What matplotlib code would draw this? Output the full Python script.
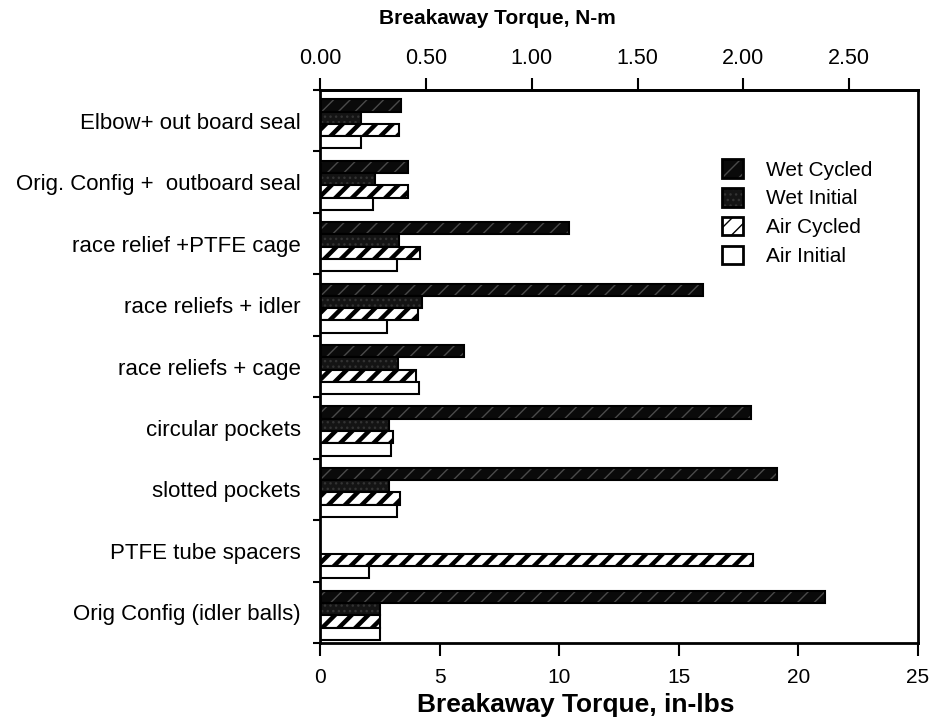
import matplotlib.pyplot as plt
import matplotlib.patches as mpatches
import numpy as np

# configurations, top to bottom
categories = ['Elbow+ out board seal', 'Orig. Config +  outboard seal',
              'race relief +PTFE cage', 'race reliefs + idler',
              'race reliefs + cage', 'circular pockets', 'slotted pockets',
              'PTFE tube spacers', 'Orig Config (idler balls)']

# breakaway torque, in-lbs
wet_cycled = [3.4, 3.7, 10.4, 16.0, 6.0, 18.0, 19.1, 0, 21.1]
wet_initial = [1.7, 2.3, 3.3, 4.25, 3.25, 2.9, 2.9, 0, 2.5]
air_cycled = [3.3, 3.7, 4.2, 4.1, 4.0, 3.05, 3.35, 18.1, 2.5]
air_initial = [1.7, 2.2, 3.2, 2.8, 4.15, 2.95, 3.2, 2.05, 2.5]

series_names = ['Wet Cycled', 'Wet Initial', 'Air Cycled', 'Air Initial']

NM_PER_INLB = 0.113

plt.rcParams['font.family'] = ['Liberation Sans', 'DejaVu Sans']

fig = plt.figure(figsize=(9.34, 7.22), dpi=100)
ax = fig.add_axes([0.3426, 0.1094, 0.6403, 0.7659])

y = np.arange(len(categories))
h = 0.2
off = 0.15

# estilo de cada serie: (face, hatch color, hatch, hatch lw)
styles = [('#0a0a0a', '#4a4a4a', '//', 1.0),
          ('#141414', '#333333', '...', 1.0),
          ('white', 'black', '//', 3.2),
          ('white', 'black', '', 1.0)]

data = [wet_cycled, wet_initial, air_cycled, air_initial]
handles = []
for j, vals in enumerate(data):
    face, hcol, hatch, hlw = styles[j]
    pos = y + off + h * (j + 0.5)
    with plt.rc_context({'hatch.linewidth': hlw}):
        ax.barh(pos, vals, h, color=face, edgecolor=hcol, hatch=hatch, linewidth=0)
        p1 = mpatches.Patch(facecolor=face, edgecolor=hcol, hatch=hatch, linewidth=0)
    ax.barh(pos, vals, h, fill=False, edgecolor='black', linewidth=1.5)
    p2 = mpatches.Patch(fill=False, edgecolor='black', linewidth=2)
    handles.append((p1, p2))

ax.set_xlim(0, 25)
ax.set_ylim(len(categories), 0)

# eixo de baixo, in-lbs
ax.set_xticks(np.arange(0, 26, 5))
ax.tick_params(axis='x', direction='out', length=9, width=1.5, labelsize=15, pad=9)

# categorias entre os ticks
ax.set_yticks(np.arange(0, len(categories) + 1))
ax.set_yticklabels([])
ax.set_yticks(y + 0.5, minor=True)
ax.set_yticklabels(categories, minor=True, fontsize=16)
ax.tick_params(axis='y', which='major', direction='out', length=5, width=1.5)
ax.tick_params(axis='y', which='minor', length=0, pad=14)

for s in ax.spines.values():
    s.set_linewidth(2)

# eixo de cima, N-m
top = ax.secondary_xaxis('top', functions=(lambda x: x * NM_PER_INLB, lambda x: x / NM_PER_INLB))
top.set_xticks([0, 0.5, 1.0, 1.5, 2.0, 2.5])
top.set_xticklabels(['0.00', '0.50', '1.00', '1.50', '2.00', '2.50'])
top.tick_params(direction='out', length=9, width=1.5, labelsize=15.5, pad=6)
top.spines['top'].set_linewidth(2)

fig.text(0.533, 0.975, 'Breakaway Torque, N-m', ha='center', va='center',
         fontsize=15, fontweight='bold')
fig.text(0.616, 0.024, 'Breakaway Torque, in-lbs', ha='center', va='center',
         fontsize=19, fontweight='bold')

ax.legend(handles, series_names, loc='upper left', bbox_to_anchor=(0.672, 0.875),
          frameon=False, fontsize=15, handlelength=1.0, handleheight=1.0,
          handletextpad=1.1, labelspacing=0.4, borderpad=0, borderaxespad=0)

fig.savefig('out.png', dpi=100)
